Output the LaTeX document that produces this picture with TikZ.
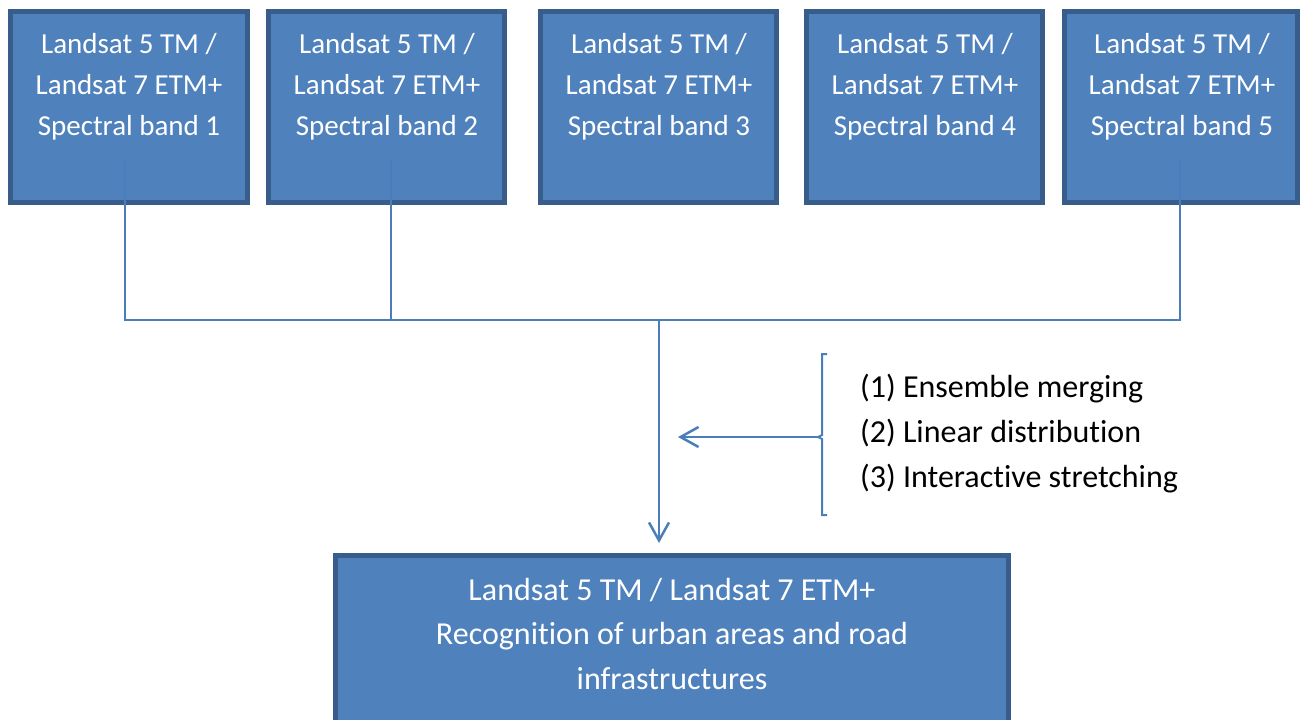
\documentclass[tikz,border=0pt]{standalone}
\usepackage{fontspec}
\setmainfont{Carlito}[Ligatures={NoCommon}]
\usetikzlibrary{arrows.meta}
\definecolor{boxfill}{HTML}{4F81BD}
\definecolor{boxline}{HTML}{385D8A}
\definecolor{conn}{HTML}{4A7EBB}
\tikzset{
  bandbox/.style={draw=boxline, fill=boxfill, line width=5pt, inner sep=0pt,
    minimum width=#1, minimum height=191pt, anchor=north west},
  bandtext/.style={text=white, align=center, inner sep=0pt, anchor=base,
    font=\fontsize{29}{41}\selectfont},
  conline/.style={draw=conn, line width=2pt},
  arrline/.style={draw=conn, line width=2.5pt, -{Straight Barb[length=18pt,width=20pt,line width=2.5pt]}},
}
\begin{document}
\begin{tikzpicture}[x=1pt,y=-1pt]
\useasboundingbox (0,0) rectangle (1309,720);
\fill[white] (0,0) rectangle (1309,720);
% top boxes (anchor is the outer edge of the border)
\node[bandbox=237pt] (b1) at (8,9) {};
\node[bandbox=236pt] (b2) at (266,9) {};
\node[bandbox=236pt] (b3) at (538,9) {};
\node[bandbox=236pt] (b4) at (804,9) {};
\node[bandbox=233pt] (b5) at (1062,9) {};
\node[bandtext] (t1) at (129,135) {Landsat 5 TM /\\Landsat 7 ETM+\\Spectral band 1};
\node[bandtext] (t2) at (387,135) {Landsat 5 TM /\\Landsat 7 ETM+\\Spectral band 2};
\node[bandtext] (t3) at (659,135) {Landsat 5 TM /\\Landsat 7 ETM+\\Spectral band 3};
\node[bandtext] (t4) at (925,135) {Landsat 5 TM /\\Landsat 7 ETM+\\Spectral band 4};
\node[bandtext] (t5) at (1182,135) {Landsat 5 TM /\\Landsat 7 ETM+\\Spectral band 5};
% connectors
\coordinate (s1) at (125,160);
\coordinate (s2) at (391,160);
\coordinate (s5) at (1180,160);
\coordinate (j1) at (125,320);
\coordinate (j2) at (391,320);
\coordinate (j3) at (659,320);
\coordinate (j5) at (1180,320);
\draw[conline] (s1) -- (j1) -- (j5) -- (s5);
\draw[conline] (s2) -- (j2);
% bottom box
\node[draw=boxline, fill=boxfill, line width=5pt, inner sep=0pt, minimum width=673pt,
  minimum height=200pt, anchor=north west] (bb) at (333,553) {};
\node[bandtext, font=\fontsize{32}{44.5}\selectfont] (bt) at (672,689)
  {Landsat 5 TM / Landsat 7 ETM+\\Recognition of urban areas and road\\infrastructures};
\coordinate (tip) at (659,543);
\draw[arrline] (j3) -- (tip);
% bracket
\coordinate (bk) at (818,437);
\coordinate (atip) at (678,437);
\draw[conn, line width=2pt] (827,354) -- (822,354) -- (822,435) -- (818,437) -- (822,439) -- (822,515) -- (827,515);
\draw[arrline] (bk) -- (atip);
\node[anchor=base west, inner sep=0pt, align=left, font=\fontsize{32}{44.7}\selectfont] (proc) at (860,487)
  {(1) Ensemble merging\\(2) Linear distribution\\(3) Interactive stretching};
\end{tikzpicture}
\end{document}
